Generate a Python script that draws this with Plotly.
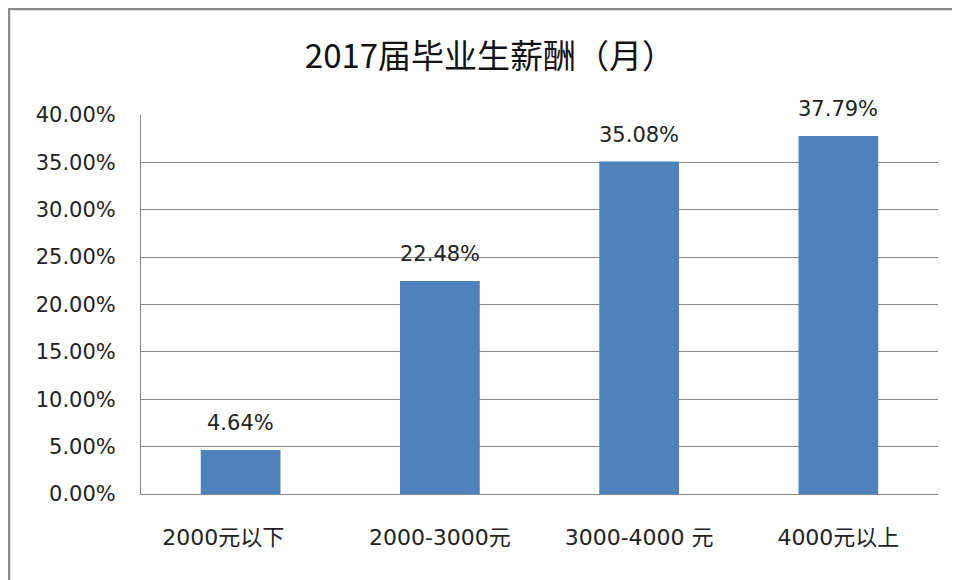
import plotly.graph_objects as go

categories = ["2000元以下", "2000-3000元", "3000-4000 元", "4000元以上"]
tick_labels = ["2000元以下\u00a0\u00a0\u00a0\u00a0\u00a0", "2000-3000元", "3000-4000 元", "4000元以上"]
values = [0.0464, 0.2248, 0.3508, 0.3779]
label_texts = ["4.64%", "22.48%", "35.08%", "37.79%"]
y_ticks = [0, 0.05, 0.10, 0.15, 0.20, 0.25, 0.30, 0.35, 0.40]

LATIN = "DejaVu Sans, Noto Sans CJK SC, sans-serif"
TITLE_FONT = "Noto Sans CJK SC, Noto Sans, sans-serif"
W, H = 960, 580
ML, MR, MT, MB = 133, 30, 107, 94
PW, PH = W - ML - MR, H - MT - MB

fig = go.Figure()
fig.add_trace(go.Bar(
    x=categories, y=values,
    marker=dict(color="#4F81BD", line=dict(width=0)),
    hoverinfo="skip",
))

for c, v, t in zip(categories, values, label_texts):
    fig.add_annotation(x=c, y=v, text=t, showarrow=False, yanchor="bottom",
                       yshift=13, font=dict(family=LATIN, size=21, color="#222222"))

# outer chart frame (left and top edges visible)
px = lambda p: (p - ML) / PW
py = lambda p: 1 - (p - MT) / PH
fig.add_shape(type="rect", xref="paper", yref="paper",
              x0=px(1), x1=px(1000), y0=py(620), y1=py(1),
              line=dict(color="#8a8a8a", width=2.5), fillcolor="rgba(0,0,0,0)", layer="below")

fig.update_layout(
    width=W, height=H,
    margin=dict(l=ML, r=MR, t=MT, b=MB),
    paper_bgcolor="white", plot_bgcolor="white",
    bargap=0.6,
    showlegend=False,
    title=dict(text="2017届毕业生薪酬（月）", x=482 / W, xref="container", xanchor="center",
               y=1 - 48 / H, yref="container", yanchor="middle",
               font=dict(family=TITLE_FONT, size=33, color="#111111")),
    font=dict(family=LATIN, size=21, color="#222222"),
    xaxis=dict(showgrid=False, showline=True, linecolor="#868686", linewidth=1,
               tickmode="array", tickvals=categories, ticktext=tick_labels,
               ticks="", ticklabelstandoff=24, tickfont=dict(family=LATIN, size=22, color="#222222")),
    yaxis=dict(range=[0, 0.40], tickvals=y_ticks, tickformat=".2%",
               showgrid=True, gridcolor="#868686", gridwidth=1,
               showline=True, linecolor="#868686", linewidth=1, zeroline=False,
               ticks="", ticklabelstandoff=20, tickfont=dict(family=LATIN, size=21, color="#222222")),
)

fig.write_html("out.html")
